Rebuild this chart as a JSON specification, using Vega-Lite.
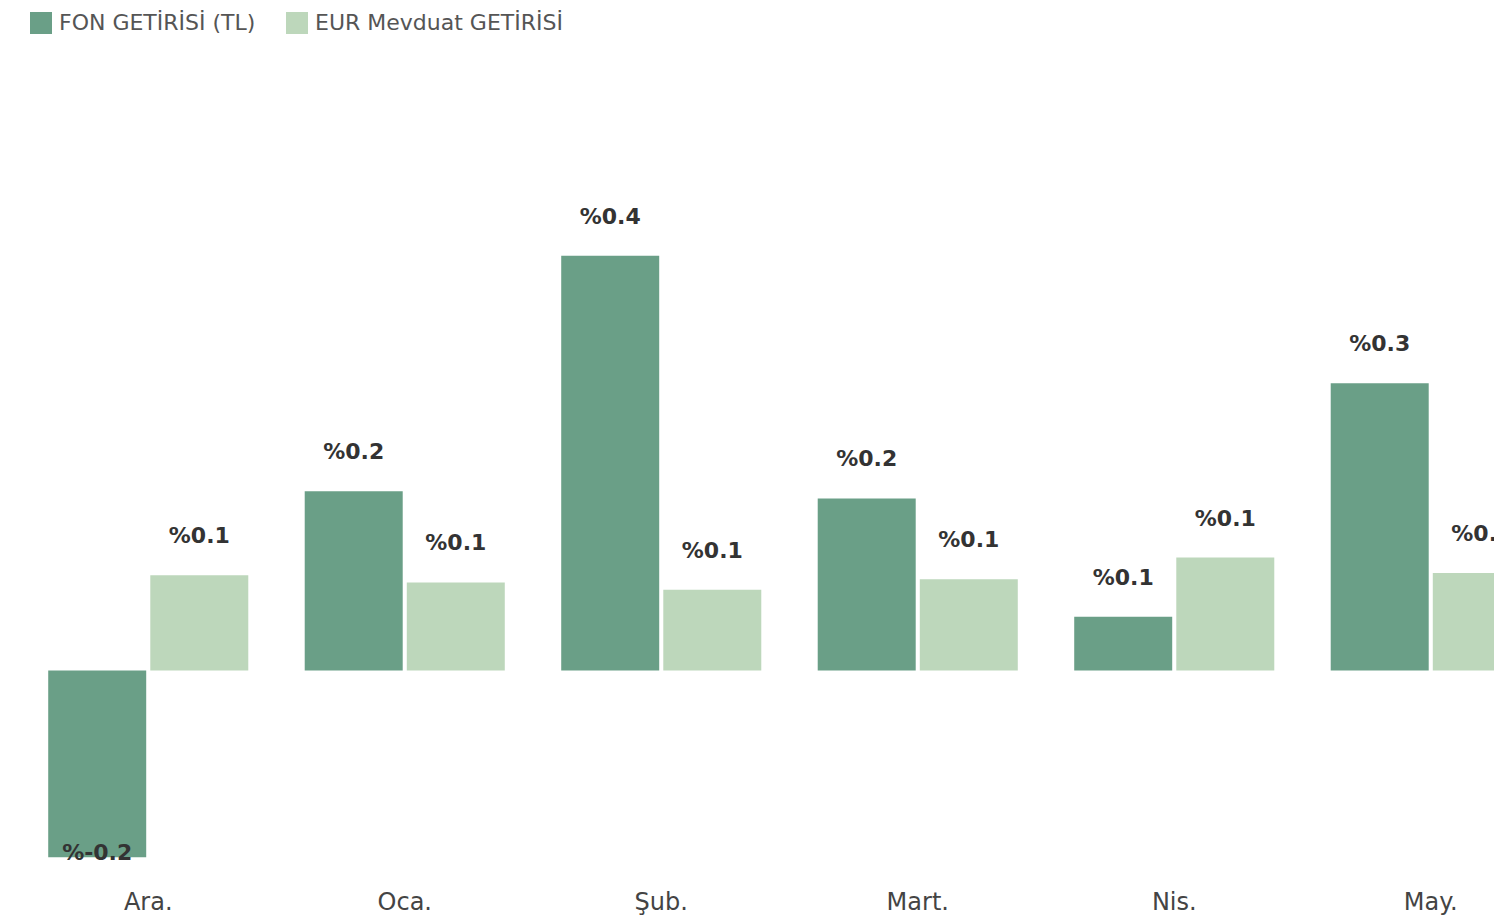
{
  "$schema": "https://vega.github.io/schema/vega-lite/v6.json",
  "width": 1474,
  "height": 726,
  "autosize": {"type": "none"},
  "padding": {"left": 20, "top": 152, "right": 0, "bottom": 42},
  "config": {"view": {"stroke": null}, "font": "DejaVu Sans"},
  "data": {
    "values": [
      {"month": "Ara.", "series": "FON GETİRİSİ (TL)", "value": -0.18, "label": "%-0.2"},
      {"month": "Ara.", "series": "EUR Mevduat GETİRİSİ", "value": 0.092, "label": "%0.1"},
      {"month": "Oca.", "series": "FON GETİRİSİ (TL)", "value": 0.173, "label": "%0.2"},
      {"month": "Oca.", "series": "EUR Mevduat GETİRİSİ", "value": 0.085, "label": "%0.1"},
      {"month": "Şub.", "series": "FON GETİRİSİ (TL)", "value": 0.4, "label": "%0.4"},
      {"month": "Şub.", "series": "EUR Mevduat GETİRİSİ", "value": 0.078, "label": "%0.1"},
      {"month": "Mart.", "series": "FON GETİRİSİ (TL)", "value": 0.166, "label": "%0.2"},
      {"month": "Mart.", "series": "EUR Mevduat GETİRİSİ", "value": 0.088, "label": "%0.1"},
      {"month": "Nis.", "series": "FON GETİRİSİ (TL)", "value": 0.052, "label": "%0.1"},
      {"month": "Nis.", "series": "EUR Mevduat GETİRİSİ", "value": 0.109, "label": "%0.1"},
      {"month": "May.", "series": "FON GETİRİSİ (TL)", "value": 0.277, "label": "%0.3"},
      {"month": "May.", "series": "EUR Mevduat GETİRİSİ", "value": 0.094, "label": "%0.1"}
    ]
  },
  "encoding": {
    "x": {
      "field": "month", "type": "nominal",
      "sort": ["Ara.", "Oca.", "Şub.", "Mart.", "Nis.", "May."],
      "scale": {"range": [0, 1539], "paddingInner": 0.22, "paddingOuter": 0.11},
      "axis": {"title": null, "domain": false, "ticks": false, "labelAngle": 0, "labelFontSize": 24, "labelColor": "#444444", "labelPadding": 12, "labelFont": "DejaVu Sans"}
    },
    "xOffset": {
      "field": "series", "type": "nominal",
      "sort": ["FON GETİRİSİ (TL)", "EUR Mevduat GETİRİSİ"],
      "scale": {"paddingInner": 0.04, "paddingOuter": 0}
    },
    "y": {
      "field": "value", "type": "quantitative",
      "scale": {"domain": [-0.2, 0.5], "nice": false, "zero": true},
      "axis": null
    }
  },
  "layer": [
    {
      "mark": {"type": "bar"},
      "encoding": {
        "color": {
          "field": "series", "type": "nominal",
          "scale": {"domain": ["FON GETİRİSİ (TL)", "EUR Mevduat GETİRİSİ"], "range": ["#6a9f87", "#bdd7bb"]},
          "legend": {
            "orient": "none", "legendX": 10, "legendY": -140, "direction": "horizontal",
            "title": null, "symbolType": "square", "symbolSize": 484, "symbolStrokeWidth": 0,
            "labelFontSize": 22, "labelColor": "#555555", "labelFont": "DejaVu Sans", "labelLimit": 500,
            "columnPadding": 30, "labelOffset": 7
          }
        }
      }
    },
    {
      "transform": [{"filter": "datum.value >= 0"}],
      "mark": {"type": "text", "dy": -32, "baseline": "alphabetic", "fontWeight": "bold", "fontSize": 22, "color": "#333333"},
      "encoding": {"text": {"field": "label"}}
    },
    {
      "transform": [{"filter": "datum.value < 0"}],
      "mark": {"type": "text", "dy": 3, "baseline": "alphabetic", "fontWeight": "bold", "fontSize": 22, "color": "#333333"},
      "encoding": {"text": {"field": "label"}}
    }
  ]
}
